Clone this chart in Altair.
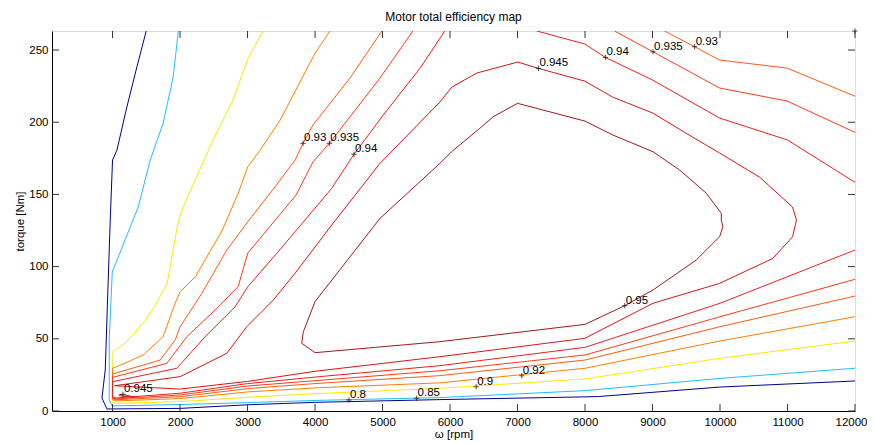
import altair as alt
import pandas as pd

TITLE = "Motor total efficiency map"
LEVELS = ["0.8", "0.85", "0.9", "0.92", "0.93", "0.935", "0.94", "0.945", "0.95"]
COLORS = ["#00008F", "#1FBFFF", "#FFE800", "#FF8000", "#FF5A14", "#FF3A1A",
          "#F01E1E", "#DC1414", "#A01A1A"]

# contour polylines (rpm, Nm)
c080 = [(1499, 263.2), (1361, 238.4), (1213, 210.7), (1065, 180.7), (1000, 173.8),
        (966, 132.3), (926, 76.9), (892, 28.4), (843, 9.0), (917, 1.4), (2000, 1.8),
        (3000, 4.3), (4000, 6.0), (5850, 7.9), (8000, 9.8), (8200, 10.0), (10000, 16.6),
        (12000, 20.8)]
c085 = [(1975, 263.2), (1898, 231.3), (1750, 199.4), (1558, 173.8), (1380, 141.3),
        (996, 96.3), (951, 49.2), (951, 7.6), (996, 3.5), (2000, 4.5), (3000, 5.8),
        (4000, 7.3), (5850, 9.3), (8000, 14.1), (10000, 22.6), (12000, 29.6)]
c090 = [(3230, 263.2), (3008, 244.5), (2786, 215.4), (2490, 187.7), (2224, 160.0),
        (2017, 137.8), (1958, 127.4), (1810, 88.6), (1620, 72.0), (1454, 60.9),
        (1189, 47.1), (1006, 41.1), (991, 6.2), (1050, 5.3), (2000, 6.5), (3000, 9.5),
        (4000, 12.0), (5850, 15.7), (8000, 22.2), (10000, 36.5), (12000, 48.5)]
c092 = [(4223, 263.2), (4001, 247.9), (3483, 201.5), (3187, 180.7), (3004, 169.2),
        (2863, 151.0), (2627, 125.3), (2227, 93.0), (2002, 82.6), (1928, 74.8),
        (1750, 51.5), (1454, 38.8), (1188, 33.2), (1000, 29.6), (1000, 7.8), (1050, 7.0),
        (2000, 8.6), (3000, 13.2), (4000, 16.0), (5850, 19.5), (8000, 29.6),
        (10000, 48.5), (12000, 65.3)]
c093_a = [(4990, 263.2), (4518, 230.6), (3970, 198.1), (3822, 185.4), (3704, 173.8),
          (3408, 155.3), (3004, 131.1), (2693, 111.5), (2323, 81.5), (2002, 58.4),
          (1928, 49.2), (1706, 35.3), (1000, 25.6), (1000, 8.4), (1050, 7.8), (2000, 9.9),
          (3000, 15.5), (4000, 19.0), (5850, 24.5), (8000, 35.3), (10000, 58.4),
          (12000, 79.6)]
c093_b = [(9177, 263.2), (9624, 252.3), (9994, 243.1), (10993, 237.5), (12000, 218.0)]
c0935_a = [(5450, 263.2), (4962, 230.6), (4518, 203.8), (4212, 185.4), (3971, 172.6),
           (3719, 149.6), (3004, 109.4), (2860, 86.1), (2520, 69.9), (2101, 51.5),
           (1805, 33.0), (1000, 23.3), (1000, 9.0), (1050, 8.4), (2000, 11.1),
           (3000, 17.3), (4000, 21.0), (5850, 27.9), (8000, 38.8), (10000, 65.3),
           (12000, 91.2)]
c0935_b = [(8437, 263.2), (9007, 248.8), (9994, 223.7), (10993, 214.7), (12000, 193.0)]
c094_a = [(5922, 263.2), (5554, 237.3), (5011, 205.0), (4577, 177.8), (4247, 154.2),
          (3788, 128.8), (3433, 109.2), (3004, 86.1), (2816, 72.2), (2372, 51.5),
          (1953, 29.6), (1000, 20.3), (1000, 9.6), (1050, 9.0), (2000, 12.3),
          (3000, 19.0), (4000, 23.5), (5850, 31.4), (8000, 44.1), (10000, 74.6),
          (12000, 111.5)]
c094_b = [(7285, 263.2), (7996, 254.2), (8302, 244.9), (9002, 229.2), (9994, 202.9),
          (11000, 187.7), (12000, 158.4)]
c0945_a = [(5850, 214.0), (6028, 224.4), (6398, 234.1), (7004, 241.7), (7309, 237.3),
           (7996, 228.5), (8410, 217.4), (9002, 206.4), (9594, 189.7), (9994, 178.7),
           (10586, 162.0), (11074, 141.3), (11133, 132.3), (11075, 120.7), (10783, 105.7),
           (9994, 88.4), (9007, 74.6), (7996, 50.3), (5850, 37.6), (4000, 27.5),
           (3000, 20.5), (2002, 15.2), (1030, 17.5), (2002, 23.8), (2693, 40.0),
           (2989, 58.4), (3383, 76.9), (3704, 95.4), (4247, 128.8), (4962, 171.5),
           (5850, 214.0)]
c0945_b = [(1100, 11.3), (1200, 11.0), (1320, 9.6), (1200, 10.0), (1100, 10.6),
           (1100, 11.3)]
c095 = [(4962, 133.4), (5850, 171.5), (6023, 179.6), (6442, 195.8), (6639, 203.8),
        (7000, 213.1), (7999, 200.8), (8415, 191.1), (9007, 179.6), (9402, 166.9),
        (9797, 150.8), (10019, 136.9), (10019, 132.3), (10043, 127.6), (9994, 120.7),
        (9649, 104.6), (9007, 83.8), (8588, 72.9), (7999, 60.0), (5850, 48.0),
        (3999, 40.4), (3803, 46.9), (3827, 54.9), (3999, 75.7), (4962, 133.4)]

SEGMENTS = [("0.8", c080), ("0.85", c085), ("0.9", c090), ("0.92", c092),
            ("0.93", c093_a), ("0.93", c093_b), ("0.935", c0935_a), ("0.935", c0935_b),
            ("0.94", c094_a), ("0.94", c094_b), ("0.945", c0945_a), ("0.945", c0945_b),
            ("0.95", c095)]

# contour labels (marker position and text)
label_x = [3822, 4212, 4577, 7309, 8302, 9007, 9624, 8588, 1154, 4503, 5505, 6387, 7063, 12000]
label_y = [185.4, 185.4, 177.8, 237.3, 244.9, 248.8, 252.3, 72.9, 11.6, 7.6, 8.8, 16.8, 24.4, 263.2]
label_t = ["0.93", "0.935", "0.94", "0.945", "0.94", "0.935", "0.93", "0.95", "0.945",
           "0.8", "0.85", "0.9", "0.92", ""]

x_ticks = [1000, 2000, 3000, 4000, 5000, 6000, 7000, 8000, 9000, 10000, 11000, 12000]
y_ticks = [0, 50, 100, 150, 200, 250]

rows = []
for sid, (lvl, pts) in enumerate(SEGMENTS):
    for i, (x, y) in enumerate(pts):
        rows.append({"seg": sid, "level": lvl, "i": i, "rpm": x, "torque": y})
lines_df = pd.DataFrame(rows)
labels_df = pd.DataFrame({"rpm": label_x, "torque": label_y, "txt": label_t})
xt_df = pd.DataFrame({"rpm": x_ticks})
yt_df = pd.DataFrame({"torque": y_ticks})
title_df = pd.DataFrame({"t": [TITLE]})

FONT = "Liberation Sans"
W, H = 803, 380
xscale = alt.Scale(domain=[103, 12000], nice=False, zero=False)
yscale = alt.Scale(domain=[0, 263.2], nice=False, zero=False)
xaxis = alt.Axis(values=x_ticks, format="d", title="ω [rpm]", ticks=False, grid=False,
                 labelPadding=5, titlePadding=1, domainColor="black",
                 labelFont=FONT, labelFontSize=11.5, labelColor="black",
                 labelOffset={"expr": "datum.value == 12000 ? -4 : 0"},
                 titleFont=FONT, titleFontSize=11.5, titleFontWeight="normal",
                 titleColor="black", labelFlush=False)
yaxis = alt.Axis(values=y_ticks, format="d", title="torque [Nm]", ticks=False, grid=False,
                 labelPadding=4, titlePadding=3, domainColor="black",
                 labelFont=FONT, labelFontSize=11.5, labelColor="black",
                 titleFont=FONT, titleFontSize=11.5, titleFontWeight="normal",
                 titleColor="black", labelFlush=False)
X = alt.X("rpm:Q", scale=xscale, axis=xaxis)
Y = alt.Y("torque:Q", scale=yscale, axis=yaxis)

lines = alt.Chart(lines_df).mark_line(strokeWidth=1, clip=True).encode(
    x=X, y=Y,
    color=alt.Color("level:N", scale=alt.Scale(domain=LEVELS, range=COLORS), legend=None),
    detail="seg:N",
    order="i:Q",
)

markers = alt.Chart(labels_df).mark_point(
    shape="M-1,0L1,0M0,-1L0,1", size=28, strokeWidth=1, filled=False, color="black"
).encode(x=X, y=Y)

texts = alt.Chart(labels_df).mark_text(
    align="left", baseline="alphabetic", dx=1, dy=-2, font=FONT, fontSize=11.5, color="black"
).encode(x=X, y=Y, text="txt:N")

title = alt.Chart(title_df).mark_text(
    align="center", baseline="alphabetic", font=FONT, fontSize=12, color="black"
).encode(x=alt.value(W / 2), y=alt.value(-10), text="t:N")

tick_col = "#333333"
bt = alt.Chart(xt_df).mark_rule(color=tick_col, strokeWidth=1).encode(
    x=X, y=alt.value(H), y2=alt.value(H - 7))
tt = alt.Chart(xt_df).mark_rule(color=tick_col, strokeWidth=1).encode(
    x=X, y=alt.value(0), y2=alt.value(7))
lt = alt.Chart(yt_df).mark_rule(color=tick_col, strokeWidth=1).encode(
    y=Y, x=alt.value(0), x2=alt.value(7))
rt = alt.Chart(yt_df).mark_rule(color=tick_col, strokeWidth=1).encode(
    y=Y, x=alt.value(W), x2=alt.value(W - 7))

chart = alt.layer(lines, bt, tt, lt, rt, markers, texts, title).properties(
    width=W, height=H,
    autosize=alt.AutoSizeParams(type="none"),
    padding={"left": 44, "top": 23, "right": 12, "bottom": 29},
).configure_view(stroke="black", strokeWidth=1).configure(background="white")

chart.save("out.html", embed_options={"renderer": "svg", "actions": False})
